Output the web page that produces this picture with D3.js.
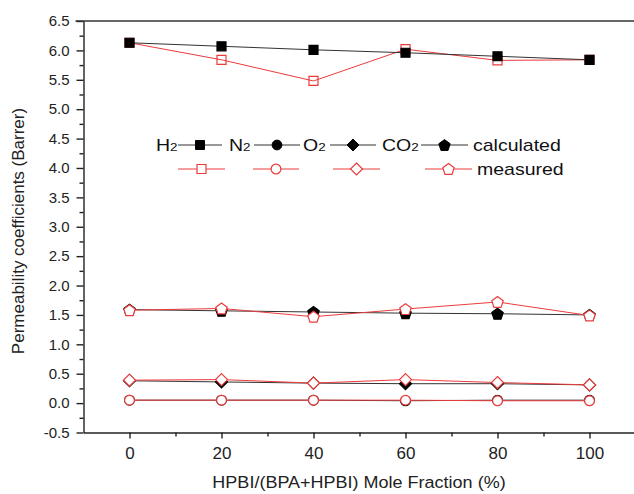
<!DOCTYPE html>
<html lang="en">
<head>
  <meta charset="UTF-8">
  <title>Permeability coefficients</title>
  <script src="https://d3js.org/d3.v7.min.js"></script>
  <style>
    html, body { margin: 0; background: #fff; }
    svg { display: block; font-family: "Liberation Sans", Arial, sans-serif; }
    .axis path, .axis line { stroke: #222; stroke-width: 1.4px; }
    .axis text { fill: #222; }
  </style>
</head>
<body>
<svg id="chart" width="634" height="494"></svg>
<script>
  // HPBI mole fraction (%)
  const fractions = [0, 20, 40, 60, 80, 100];
  const gases = ["H2", "N2", "O2", "CO2"];

  const h2Calc = [6.13, 6.07, 6.01, 5.96, 5.90, 5.84];
  const h2Meas = [6.13, 5.84, 5.48, 6.02, 5.83, 5.84];
  const n2Calc = [0.05, 0.05, 0.05, 0.04, 0.05, 0.05];
  const n2Meas = [0.05, 0.05, 0.05, 0.05, 0.04, 0.04];
  const o2Calc = [0.38, 0.36, 0.34, 0.33, 0.33, 0.31];
  const o2Meas = [0.39, 0.40, 0.34, 0.40, 0.35, 0.31];
  const co2Calc = [1.59, 1.57, 1.55, 1.53, 1.52, 1.50];
  const co2Meas = [1.58, 1.61, 1.47, 1.60, 1.72, 1.49];

  const yTicks = d3.range(-0.5, 6.51, 0.5);
  const xTicks = [0, 20, 40, 60, 80, 100];

  const svg = d3.select("#chart");
  const red = "#ec3b3b";

  const x = d3.scaleLinear().domain([-10, 110]).range([83.5, 635.5]);
  const y = d3.scaleLinear().domain([-0.5, 6.5]).range([432.5, 21]);

  // minor ticks
  svg.append("g").attr("class", "axis")
    .attr("transform", `translate(${x(-10)},0)`)
    .call(d3.axisLeft(y).tickValues(yTicks.slice(0, -1).map(v => v + 0.25)).tickSize(4).tickFormat(""))
    .call(g => g.select(".domain").remove());
  svg.append("g").attr("class", "axis")
    .attr("transform", `translate(0,${y(-0.5)})`)
    .call(d3.axisBottom(x).tickValues([10, 30, 50, 70, 90]).tickSize(4).tickFormat(""))
    .call(g => g.select(".domain").remove());

  // main axes
  const yAxis = svg.append("g").attr("class", "axis")
    .attr("transform", `translate(${x(-10)},0)`)
    .call(d3.axisLeft(y).tickValues(yTicks).tickSize(7).tickSizeOuter(0)
      .tickFormat(d => d.toFixed(1)));
  yAxis.selectAll("text").attr("font-size", 15).attr("font-family", "Liberation Sans, Arial, sans-serif").attr("x", -14);

  const xAxis = svg.append("g").attr("class", "axis")
    .attr("transform", `translate(0,${y(-0.5)})`)
    .call(d3.axisBottom(x).tickValues(xTicks).tickSize(6).tickSizeOuter(0));
  xAxis.selectAll("text").attr("font-size", 17).attr("font-family", "Liberation Sans, Arial, sans-serif").attr("y", 14);

  // top frame line
  svg.append("line")
    .attr("x1", x(-10) - 8).attr("x2", 634)
    .attr("y1", y(6.5)).attr("y2", y(6.5))
    .attr("stroke", "#333").attr("stroke-width", 1.6);

  // axis titles
  svg.append("text")
    .attr("transform", `translate(24,231) rotate(-90)`)
    .attr("text-anchor", "middle")
    .attr("font-size", 17).attr("fill", "#222")
    .text("Permeability coefficients (Barrer)");
  svg.append("text")
    .attr("transform", "translate(359,488) scale(1.06,1)")
    .attr("text-anchor", "middle")
    .attr("font-size", 17).attr("fill", "#222")
    .text("HPBI/(BPA+HPBI) Mole Fraction (%)");

  // marker shapes
  function square(h) { return `M${-h},${-h}H${h}V${h}H${-h}Z`; }
  function diamond(h) { return `M0,${-h}L${h},0L0,${h}L${-h},0Z`; }
  function pentagon(r) {
    const pts = d3.range(5).map(i => {
      const a = -Math.PI / 2 + i * 2 * Math.PI / 5;
      return [r * Math.cos(a), r * Math.sin(a) + 0.6];
    });
    return "M" + pts.map(p => p.join(",")).join("L") + "Z";
  }
  function markerPath(gas) {
    if (gas === "H2") return square(4.5);
    if (gas === "N2") return d3.symbol(d3.symbolCircle, 75)();
    if (gas === "O2") return diamond(6);
    return pentagon(6);
  }

  const calc = { H2: h2Calc, N2: n2Calc, O2: o2Calc, CO2: co2Calc };
  const meas = { H2: h2Meas, N2: n2Meas, O2: o2Meas, CO2: co2Meas };

  const line = d3.line().x((d, i) => x(fractions[i])).y(d => y(d));
  const plot = svg.append("g");

  function drawSeries(gas, kind) {
    const vals = kind === "calc" ? calc[gas] : meas[gas];
    const g = plot.append("g");
    g.append("path")
      .attr("d", line(vals))
      .attr("fill", "none")
      .attr("stroke", kind === "calc" ? "#333" : red)
      .attr("stroke-width", 1);
    g.selectAll("path.m")
      .data(vals)
      .join("path")
      .attr("class", "m")
      .attr("transform", (d, i) => `translate(${x(fractions[i])},${y(d)})`)
      .attr("d", markerPath(gas))
      .attr("fill", kind === "calc" ? "#000" : (gas === "H2" ? "none" : "#fff"))
      .attr("stroke", kind === "calc" ? "#000" : red)
      .attr("stroke-width", 1.2);
  }

  drawSeries("H2", "meas");
  drawSeries("H2", "calc");
  gases.slice(1).forEach(gs => { drawSeries(gs, "calc"); drawSeries(gs, "meas"); });

  // legend
  const legend = svg.append("g").attr("font-size", 16).attr("fill", "#111");
  const row1 = 151, row2 = 175;
  const items = [
    { gas: "H2", label: "H", sub: "2", tx: 156, l0: 178, l1: 222 },
    { gas: "N2", label: "N", sub: "2", tx: 229, l0: 254, l1: 300 },
    { gas: "O2", label: "O", sub: "2", tx: 303, l0: 330, l1: 376 },
    { gas: "CO2", label: "CO", sub: "2", tx: 382, l0: 421, l1: 468 }
  ];
  const mItems = [
    { gas: "H2", l0: 178, l1: 225 },
    { gas: "N2", l0: 253, l1: 299 },
    { gas: "O2", l0: 333, l1: 380 },
    { gas: "CO2", l0: 425, l1: 472 }
  ];
  const wide = "scale(1.22,1)";
  items.forEach(it => {
    const t = legend.append("text").attr("transform", `translate(${it.tx},${row1}) ${wide}`);
    t.append("tspan").text(it.label);
    t.append("tspan").attr("font-size", 11).text(it.sub);
    legend.append("line").attr("x1", it.l0).attr("x2", it.l1)
      .attr("y1", row1 - 6).attr("y2", row1 - 6).attr("stroke", "#333");
    legend.append("path")
      .attr("transform", `translate(${(it.l0 + it.l1) / 2},${row1 - 6})`)
      .attr("d", markerPath(it.gas)).attr("fill", "#000").attr("stroke", "#000");
  });
  legend.append("text").attr("transform", `translate(473,${row1}) ${wide}`).text("calculated");
  mItems.forEach(it => {
    legend.append("line").attr("x1", it.l0).attr("x2", it.l1)
      .attr("y1", row2 - 6).attr("y2", row2 - 6).attr("stroke", red);
    legend.append("path")
      .attr("transform", `translate(${(it.l0 + it.l1) / 2},${row2 - 6})`)
      .attr("d", markerPath(it.gas)).attr("fill", "#fff").attr("stroke", red).attr("stroke-width", 1.2);
  });
  legend.append("text").attr("transform", `translate(477,${row2}) ${wide}`).text("measured");
</script>
</body>
</html>
